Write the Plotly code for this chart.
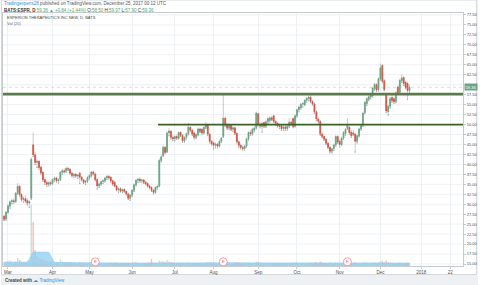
import pandas as pd
import plotly.graph_objects as go

# ---------------- data ----------------
holidays = ["2017-04-14", "2017-05-29", "2017-07-04", "2017-09-04", "2017-11-23"]
dates = [d for d in pd.bdate_range("2017-02-27", "2017-12-22") if d.strftime("%Y-%m-%d") not in holidays]

opens = [27.0, 26.3, 28.0, 29.5, 30.6, 30.9, 30.7, 32.8, 34.5, 32.4,
         31.2, 31.4, 30.9, 30.3, 31.5, 44.9, 42.4, 40.5, 40.8, 39.3,
         38.0, 36.2, 35.5, 35.0, 35.4, 35.3, 36.2, 36.6, 35.9, 36.2,
         38.0, 38.4, 38.3, 39.0, 38.8, 37.8, 37.2, 37.5, 37.1, 37.8,
         36.8, 36.1, 35.5, 35.8, 36.7, 37.2, 38.1, 37.6, 36.2, 34.6,
         35.1, 35.7, 35.9, 36.6, 37.0, 36.8, 35.9, 35.5, 34.6, 33.6,
         33.9, 33.3, 33.7, 33.2, 32.6, 31.5, 32.3, 33.5, 34.9, 36.0,
         36.3, 35.9, 36.1, 35.5, 35.2, 34.6, 34.2, 33.5, 33.0, 34.2,
         34.6, 41.0, 42.2, 44.3, 43.2, 47.9, 48.3, 46.8, 46.4, 47.0,
         46.6, 48.0, 47.3, 45.9, 46.8, 47.7, 49.3, 48.6, 47.9, 46.8,
         47.5, 48.9, 48.8, 47.9, 49.3, 50.0, 47.6, 45.8, 45.4, 44.8,
         45.1, 44.6, 45.8, 47.0, 51.6, 49.9, 49.1, 49.8, 48.8, 49.2,
         47.8, 45.7, 44.8, 44.3, 44.0, 44.6, 46.4, 48.0, 47.7, 48.6,
         49.2, 52.7, 50.1, 49.5, 50.5, 49.6, 50.7, 51.0, 51.7, 52.2,
         50.8, 50.3, 49.7, 49.7, 49.0, 49.4, 49.0, 49.6, 50.6, 51.5,
         49.6, 52.2, 53.7, 54.2, 55.1, 55.0, 56.1, 56.5, 56.9, 55.8,
         55.2, 53.2, 51.4, 50.8, 47.6, 47.0, 46.3, 45.3, 44.3, 43.3,
         43.9, 44.9, 47.0, 45.8, 45.0, 46.6, 47.7, 49.0, 49.3, 48.1,
         47.9, 47.6, 45.8, 47.2, 48.9, 49.8, 53.0, 55.2, 56.3, 56.9,
         57.2, 59.0, 60.0, 58.8, 61.5, 64.8, 61.0, 57.6, 53.2, 54.6,
         56.8, 56.5, 55.8, 59.4, 58.1, 61.0, 61.8, 60.6, 60.3, 58.50]
highs = [27.3, 28.3, 30.0, 31.0, 31.4, 31.5, 33.0, 35.3, 34.8, 32.8,
         31.9, 32.2, 31.6, 31.0, 41.8, 48.0, 43.2, 41.2, 41.0, 39.6,
         38.4, 36.8, 36.0, 35.8, 35.9, 36.5, 37.0, 36.9, 36.5, 38.4,
         38.9, 39.0, 39.4, 39.5, 39.0, 38.2, 37.8, 37.9, 37.6, 38.2,
         37.1, 36.4, 36.0, 37.0, 37.6, 38.4, 38.5, 37.9, 36.5, 35.5,
         36.0, 36.3, 36.9, 37.3, 37.4, 37.0, 36.2, 36.0, 34.9, 34.2,
         34.3, 34.0, 34.1, 33.5, 32.9, 32.6, 33.8, 35.2, 36.4, 36.6,
         36.8, 36.4, 36.3, 35.9, 35.5, 35.0, 34.5, 33.8, 34.5, 34.8,
         41.5, 42.4, 44.8, 44.6, 48.3, 49.1, 48.7, 47.4, 47.3, 47.5,
         48.3, 48.4, 47.6, 47.0, 48.0, 50.4, 49.7, 49.0, 48.3, 47.8,
         49.3, 49.2, 49.2, 49.6, 50.6, 50.2, 47.9, 46.1, 45.7, 45.5,
         45.4, 46.2, 46.9, 57.4, 52.0, 50.4, 50.2, 50.1, 49.6, 49.4,
         48.1, 46.0, 45.3, 44.8, 44.9, 46.8, 48.3, 48.6, 49.2, 49.5,
         53.3, 53.0, 50.6, 50.6, 50.8, 51.0, 51.8, 52.0, 52.2, 52.5,
         51.1, 50.7, 50.2, 50.1, 49.8, 49.9, 49.9, 51.6, 51.0, 51.8,
         52.6, 54.0, 54.7, 55.4, 55.6, 56.4, 56.9, 57.3, 57.5, 56.2,
         55.5, 53.6, 51.8, 51.1, 48.0, 47.3, 46.6, 45.7, 44.6, 44.2,
         45.2, 47.4, 47.3, 46.3, 47.0, 48.4, 49.1, 51.6, 49.7, 48.6,
         48.7, 47.9, 47.5, 49.2, 50.1, 53.2, 55.9, 56.9, 57.3, 57.8,
         59.5, 60.5, 60.4, 61.9, 65.3, 65.2, 61.4, 58.0, 55.0, 56.9,
         57.6, 57.0, 58.4, 59.8, 61.5, 62.6, 62.2, 61.0, 60.8, 59.97]
lows = [25.9, 26.0, 27.8, 29.0, 30.1, 30.3, 30.5, 32.5, 32.0, 30.8,
        30.5, 30.6, 29.8, 29.2, 31.2, 42.0, 40.0, 39.2, 38.8, 37.6,
        35.8, 35.0, 34.5, 34.6, 34.8, 35.0, 35.8, 35.6, 35.3, 36.0,
        37.5, 37.9, 38.0, 38.5, 37.6, 36.9, 36.8, 36.9, 36.5, 35.2,
        35.9, 35.2, 35.0, 35.5, 36.3, 36.9, 37.4, 35.9, 33.8, 34.2,
        34.8, 35.2, 35.6, 36.2, 36.4, 35.6, 34.8, 34.4, 33.4, 32.9,
        33.1, 32.9, 33.0, 32.3, 31.2, 31.0, 32.0, 33.2, 34.6, 35.5,
        35.6, 35.5, 35.2, 34.9, 34.3, 33.9, 33.2, 32.6, 32.8, 33.8,
        34.4, 40.6, 42.0, 42.7, 43.0, 47.2, 46.4, 46.0, 45.9, 46.3,
        46.4, 47.0, 45.5, 45.6, 46.4, 47.4, 48.3, 47.3, 46.4, 46.5,
        47.2, 48.0, 47.6, 47.7, 49.0, 47.2, 45.4, 44.9, 43.9, 44.2,
        44.2, 44.4, 45.5, 46.8, 49.5, 48.8, 48.7, 48.5, 48.3, 47.5,
        45.4, 44.3, 43.9, 43.6, 43.6, 44.3, 46.1, 47.3, 47.4, 48.2,
        48.9, 49.7, 49.2, 48.1, 49.3, 49.3, 50.3, 50.6, 51.0, 50.5,
        49.9, 49.4, 49.0, 48.6, 48.6, 48.5, 48.6, 49.3, 49.9, 49.2,
        49.4, 51.9, 53.2, 53.9, 54.4, 54.8, 55.6, 56.0, 55.5, 54.9,
        52.8, 51.0, 50.4, 47.3, 46.7, 46.0, 45.0, 44.0, 42.9, 42.9,
        43.5, 44.6, 45.3, 44.4, 44.8, 46.3, 47.3, 48.8, 47.6, 46.8,
        47.3, 43.1, 45.4, 46.9, 48.6, 49.5, 52.7, 54.8, 56.0, 56.5,
        56.9, 58.6, 58.3, 58.5, 61.2, 60.5, 58.5, 53.0, 52.4, 54.2,
        55.6, 55.3, 55.5, 57.7, 57.9, 60.6, 59.8, 59.0, 56.3, 57.90]
closes = [26.2, 28.0, 29.6, 30.6, 30.9, 30.7, 32.8, 34.5, 32.4, 31.2,
          31.5, 30.8, 30.3, 30.6, 41.3, 42.4, 40.5, 40.8, 39.2, 37.9,
          36.2, 35.5, 35.0, 35.4, 35.2, 36.2, 36.6, 35.9, 36.1, 38.0,
          38.4, 38.2, 39.0, 38.8, 37.8, 37.2, 37.5, 37.1, 37.3, 36.8,
          36.2, 35.5, 35.8, 36.7, 37.2, 38.1, 37.7, 36.2, 34.6, 35.1,
          35.7, 35.9, 36.6, 37.0, 36.7, 35.9, 35.1, 34.6, 33.6, 33.9,
          33.3, 33.7, 33.2, 32.6, 31.5, 32.3, 33.5, 34.9, 36.0, 36.3,
          35.9, 36.1, 35.5, 35.2, 34.6, 34.2, 33.5, 33.0, 34.2, 34.5,
          41.0, 41.9, 44.3, 43.0, 47.9, 48.4, 46.8, 46.4, 47.0, 46.6,
          48.0, 47.3, 45.9, 46.8, 47.7, 49.3, 48.6, 47.6, 46.8, 47.5,
          48.9, 48.3, 47.9, 49.3, 50.0, 47.6, 45.8, 45.2, 44.8, 45.1,
          44.6, 45.8, 46.6, 51.6, 49.9, 49.1, 49.8, 48.8, 49.2, 47.8,
          45.7, 44.8, 44.3, 44.0, 44.6, 46.4, 48.0, 47.7, 48.8, 49.1,
          52.9, 50.1, 49.6, 50.3, 49.6, 50.7, 51.5, 51.7, 51.3, 50.8,
          50.3, 49.7, 49.5, 49.0, 49.4, 49.0, 49.6, 50.6, 50.3, 49.5,
          52.2, 53.7, 54.4, 55.1, 55.3, 56.1, 56.6, 56.9, 55.8, 55.2,
          53.2, 51.4, 50.8, 47.6, 47.0, 46.3, 45.3, 44.3, 43.3, 43.9,
          44.9, 47.0, 45.6, 45.0, 46.6, 48.0, 48.8, 49.8, 48.0, 47.2,
          47.6, 45.8, 47.2, 48.9, 49.7, 52.9, 55.6, 56.5, 57.0, 57.4,
          59.2, 60.1, 58.7, 61.5, 64.2, 60.9, 58.8, 53.4, 54.6, 56.5,
          56.0, 55.7, 58.0, 58.0, 61.1, 61.7, 60.3, 59.3, 58.52, 59.36]
volumes = [0.4, 0.45, 0.5, 0.55, 0.45, 0.4, 0.45, 0.8, 0.6, 0.45,
           0.4, 0.4, 0.45, 0.5, 6.1, 4.4, 1.6, 1.0, 0.8, 0.7,
           0.7, 0.55, 0.5, 0.45, 0.45, 0.45, 0.4, 0.4, 0.4, 0.65,
           0.45, 0.4, 0.4, 0.35, 0.4, 0.35, 0.35, 0.3, 0.3, 0.4,
           0.35, 0.3, 0.3, 0.3, 0.35, 0.35, 0.3, 0.45, 0.55, 0.35,
           0.3, 0.3, 0.3, 0.3, 0.3, 0.35, 0.3, 0.35, 0.35, 0.3,
           0.3, 0.3, 0.3, 0.3, 0.35, 0.3, 0.35, 0.4, 0.4, 0.3,
           0.3, 0.3, 0.3, 0.3, 0.35, 0.35, 0.7, 0.35, 0.35, 0.3,
           0.55, 0.45, 0.5, 0.4, 0.6, 0.45, 0.4, 0.35, 0.3, 0.3,
           0.35, 0.3, 0.35, 0.3, 0.3, 0.4, 0.3, 0.3, 0.3, 0.3,
           0.3, 0.3, 0.3, 0.3, 0.35, 0.35, 0.4, 0.35, 0.35, 0.3,
           0.3, 0.3, 0.3, 0.9, 0.5, 0.4, 0.35, 0.3, 0.3, 0.35,
           0.4, 0.35, 0.3, 0.3, 0.3, 0.35, 0.35, 0.3, 0.3, 0.3,
           0.45, 0.4, 0.3, 0.3, 0.3, 0.3, 0.3, 0.3, 0.3, 0.3,
           0.3, 0.3, 0.3, 0.3, 0.3, 0.3, 0.3, 0.3, 0.3, 0.3,
           0.35, 0.35, 0.3, 0.3, 0.3, 0.3, 0.3, 0.3, 0.35, 0.3,
           0.35, 0.4, 0.3, 0.45, 0.35, 0.3, 0.3, 0.3, 0.35, 0.3,
           0.3, 0.35, 0.3, 0.3, 0.3, 0.3, 0.3, 0.4, 0.35, 0.3,
           0.3, 0.4, 0.3, 0.3, 0.3, 0.35, 0.4, 0.35, 0.3, 0.3,
           0.35, 0.35, 0.3, 0.4, 0.45, 0.5, 0.4, 0.55, 0.4, 0.35,
           0.3, 0.3, 0.3, 0.3, 0.35, 0.3, 0.3, 0.3, 0.35, 0.3]

vol_ma_dates = ["2017-02-27", "2017-03-15", "2017-03-20", "2017-03-30", "2017-04-04",
                "2017-06-01", "2017-08-08", "2017-10-02", "2017-12-22"]
vol_ma_values = [0.38, 0.38, 1.4, 1.4, 0.35, 0.3, 0.32, 0.3, 0.3]

earnings_dates = ["2017-05-04", "2017-08-08", "2017-11-07"]

upper_level = 57.65
lower_level = 50.0
lower_start = "2017-06-20 09:00"
last_price = 59.36

price_ticks = [15.0, 17.5, 20.0, 22.5, 25.0, 27.5, 30.0, 32.5, 35.0, 37.5, 40.0, 42.5, 45.0,
               47.5, 50.0, 52.5, 55.0, 57.5, 62.5, 65.0, 67.5, 70.0, 72.5, 75.0, 77.5]
grid_levels = [15.0, 17.5, 20.0, 22.5, 25.0, 27.5, 30.0, 32.5, 35.0, 37.5, 40.0, 42.5, 45.0,
               47.5, 50.0, 52.5, 55.0, 57.5, 60.0, 62.5, 65.0, 67.5, 70.0, 72.5, 75.0, 77.5]

month_ticks = ["2017-03-01", "2017-04-03", "2017-05-01", "2017-06-01", "2017-07-03", "2017-08-01",
               "2017-09-01", "2017-10-02", "2017-11-01", "2017-12-01", "2018-01-01", "2018-01-22"]
month_labels = ["Mar", "Apr", "May", "Jun", "Jul", "Aug", "Sep", "Oct", "Nov", "Dec", "2018", "22"]

# ---------------- styling ----------------
UP = "#6ba583"
DOWN = "#d75442"
WICK = "#a3a6ab"
GRID = "#eef1f4"
TXT = "#4b4e52"
FONT = "Liberation Sans"

X_RANGE = ["2017-02-24 10:30", "2018-01-30 14:00"]
Y_RANGE = [14.5, 78.0]

L, R, T, B = 2, 465, 13, 266
W, H = R - L, B - T


def px(x):
    return (x - L) / W


def py(y):
    return (B - y) / H


body_hi = [max(o, c) for o, c in zip(opens, closes)]
body_lo = [min(o, c) for o, c in zip(opens, closes)]
vol_colors = ["rgba(107,165,131,0.35)" if c >= o else "rgba(215,84,66,0.35)" for o, c in zip(opens, closes)]

fig = go.Figure()

# volume MA area
fig.add_trace(go.Scatter(x=vol_ma_dates, y=vol_ma_values, yaxis="y2", mode="lines",
                         line=dict(color="#8ccdf3", width=0.5), fill="tozeroy",
                         fillcolor="rgba(140,205,243,0.75)", hoverinfo="skip"))
# volume bars
fig.add_trace(go.Bar(x=dates, y=volumes, yaxis="y2", marker=dict(color=vol_colors, line=dict(width=0)),
                     hoverinfo="skip"))

# wicks
fig.add_trace(go.Candlestick(x=dates, open=lows, high=highs, low=lows, close=lows,
                             increasing=dict(line=dict(color=WICK, width=0.6), fillcolor=WICK),
                             decreasing=dict(line=dict(color=WICK, width=0.6), fillcolor=WICK),
                             hoverinfo="skip"))
# bodies
fig.add_trace(go.Candlestick(x=dates, open=opens, high=body_hi, low=body_lo, close=closes,
                             increasing=dict(line=dict(color=UP, width=0.8), fillcolor=UP),
                             decreasing=dict(line=dict(color=DOWN, width=0.8), fillcolor=DOWN),
                             hoverinfo="skip"))

# earnings markers
fig.add_trace(go.Scatter(x=earnings_dates, y=[0.42] * len(earnings_dates), yaxis="y2",
                         mode="markers+text", text=["E"] * len(earnings_dates),
                         textposition="middle center",
                         textfont=dict(size=4, color="#e35d5d", family=FONT),
                         marker=dict(symbol="circle", size=8, color="white",
                                     line=dict(color="#ef8a8a", width=0.8)),
                         hoverinfo="skip"))

shapes = [
    # white chart frame + grey surrounding
    dict(type="rect", xref="paper", yref="paper", x0=px(0), x1=px(480), y0=py(285), y1=py(0),
         fillcolor="#eef1f4", line=dict(width=0), layer="below"),
    dict(type="rect", xref="paper", yref="paper", x0=px(0.5), x1=px(478.5), y0=py(274.5), y1=py(0),
         fillcolor="white", line=dict(color="#d6d9dc", width=1), layer="below"),
]
# horizontal grid at every price level (incl. the one hidden behind the price box)
for g in grid_levels:
    shapes.append(dict(type="line", xref="paper", yref="y", x0=0, x1=1, y0=g, y1=g,
                       line=dict(color=GRID, width=1), layer="below"))
shapes += [
    # last price line
    dict(type="line", xref="paper", yref="y", x0=0, x1=1, y0=last_price, y1=last_price,
         line=dict(color="rgba(107,165,131,0.45)", width=0.7, dash="dot")),
    # drawn levels
    dict(type="line", xref="paper", yref="y", x0=0, x1=1, y0=upper_level, y1=upper_level,
         line=dict(color="#5b7b4c", width=2.6)),
    dict(type="line", xref="x", yref="y", x0=lower_start, x1=X_RANGE[1], y0=lower_level, y1=lower_level,
         line=dict(color="#3a6128", width=1.8)),
]

annotations = [
    dict(xref="paper", yref="paper", x=px(1), y=py(4), xanchor="left", yanchor="middle", showarrow=False,
         text="<span style='color:#2f8fdd'>Tradingexperts28</span> published on TradingView.com, December 25, 2017 00:12 UTC",
         font=dict(size=4.5, color="#555", family=FONT)),
    dict(xref="paper", yref="paper", x=px(1), y=py(10), xanchor="left", yanchor="middle", showarrow=False,
         text="<b>BATS:ESPR, D</b> <span style='color:#53a36f'>59.36 \u25b2 +0.84 (+1.44%)</span> "
              "O:<span style='color:#53a36f'>58.50</span> H:<span style='color:#53a36f'>59.97</span> "
              "L:<span style='color:#53a36f'>57.90</span> C:<span style='color:#53a36f'>59.36</span>",
         font=dict(size=4.5, color="#333", family=FONT)),
    dict(xref="paper", yref="paper", x=px(4), y=py(17), xanchor="left", yanchor="middle", showarrow=False,
         text="ESPERION THERAPEUTICS INC NEW, D, BATS", font=dict(size=4, color="#444", family=FONT)),
    dict(xref="paper", yref="paper", x=px(4), y=py(23), xanchor="left", yanchor="middle", showarrow=False,
         text="Vol (20)", font=dict(size=4, color="#666", family=FONT)),
    dict(xref="paper", yref="y", x=px(466), y=last_price, xanchor="left", yanchor="middle", showarrow=False,
         text="59.36", bgcolor=UP, borderpad=0.6, font=dict(size=4, color="white", family=FONT)),
    dict(xref="paper", yref="paper", x=px(2), y=py(280), xanchor="left", yanchor="middle", showarrow=False,
         text="<b>Created with</b> <span style='color:#2f8fdd'>\u2601 TradingView</span>",
         font=dict(size=4.5, color="#444", family=FONT)),
]

fig.update_layout(
    width=480, height=285,
    margin=dict(l=L, r=480 - R, t=T, b=285 - B, pad=0),
    paper_bgcolor="white", plot_bgcolor="white",
    showlegend=False, hovermode=False, bargap=0.25,
    shapes=shapes, annotations=annotations,
    xaxis=dict(type="date", range=X_RANGE, rangeslider=dict(visible=False),
               rangebreaks=[dict(bounds=["sat", "mon"]), dict(values=holidays)],
               tickmode="array", tickvals=month_ticks, ticktext=month_labels,
               tickfont=dict(size=4.5, color=TXT, family=FONT), ticks="outside", ticklen=2,
               tickcolor="#c8cbce", showgrid=True, gridcolor=GRID, gridwidth=1,
               showline=True, linecolor="#c8cbce", linewidth=1, mirror=True, zeroline=False),
    yaxis=dict(range=Y_RANGE, side="right", tickmode="array", tickvals=price_ticks,
               ticktext=[f"{v:.2f}" for v in price_ticks],
               tickfont=dict(size=4, color=TXT, family=FONT), ticks="outside", ticklen=2,
               tickcolor="#c8cbce", showgrid=False,
               showline=True, linecolor="#c8cbce", linewidth=1, mirror=True, zeroline=False),
    yaxis2=dict(overlaying="y", range=[0, 25.3], visible=False, fixedrange=True),
)

fig.write_html("out.html")
